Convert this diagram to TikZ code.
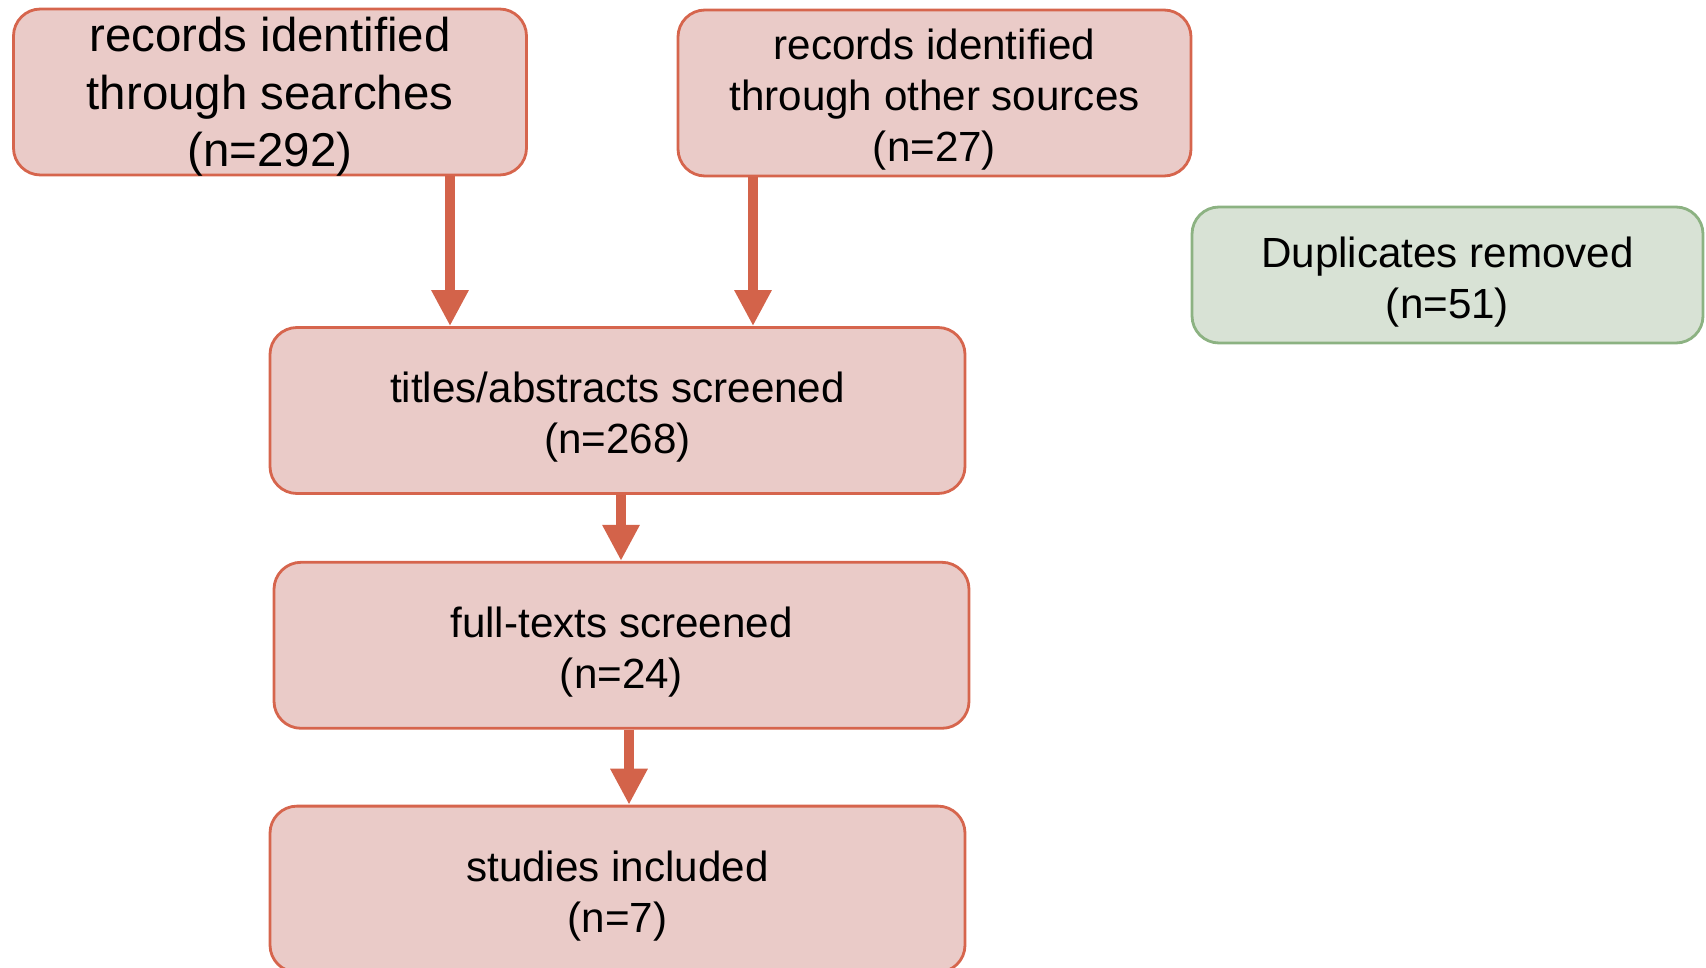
\documentclass[tikz,border=0pt]{standalone}
\usepackage{fontspec}
\setmainfont{Liberation Sans}
\usetikzlibrary{positioning,arrows.meta}
\definecolor{boxFill}{RGB}{234,203,200}
\definecolor{boxLine}{RGB}{214,101,77}
\definecolor{arrowColor}{RGB}{211,99,74}
\definecolor{dupFill}{RGB}{216,226,213}
\definecolor{dupLine}{RGB}{140,178,130}
\tikzstyle{stageBox} = [draw=boxLine, fill=boxFill, line width=.8pt, rounded corners=.27cm, align=center, inner sep=0pt, font=\fontsize{12}{14.5}\selectfont]
\tikzstyle{sourceBox} = [stageBox, minimum width=5.13cm, minimum height=1.66cm]
\tikzstyle{screenBox} = [stageBox, minimum width=6.95cm, minimum height=1.66cm]
\tikzstyle{dupBox} = [stageBox, draw=dupLine, fill=dupFill, minimum width=5.11cm, minimum height=1.36cm]
\tikzstyle{flowArrow} = [draw=arrowColor, line width=1mm, -{Triangle[length=3.6mm, width=3.5mm, fill=arrowColor]}]
\newcommand{\topGap}{\rule{0pt}{1.05em}}

\begin{document}
\begin{tikzpicture}
  \useasboundingbox (0,0) rectangle (17.06,-9.68);
  % sources
  \node [sourceBox, font=\fontsize{13.5}{16.3}\selectfont] (searches) at (2.70,-0.92) {records identified\\through searches\\\smash{(n=292)}};
  \node [sourceBox] (otherSources) at (9.345,-0.93) {\topGap records identified\\through other sources\\(n=27)};
  \node [dupBox] (duplicates) at (14.475,-2.75) {\topGap Duplicates removed\\(n=51)};
  % screening
  \node [screenBox] (abstracts) at (6.175,-4.105) {\topGap titles/abstracts screened\\(n=268)};
  \node [screenBox, below=.66cm of abstracts, xshift=.4mm] (fullTexts) {\topGap full-texts screened\\(n=24)};
  \node [screenBox, below=.75cm of fullTexts, xshift=-.4mm] (included) {\topGap studies included\\(n=7)};
  % arrows
  \draw [flowArrow] ([xshift=1.8cm]searches.south) -- ([xshift=1.8cm]searches.south |- abstracts.north);
  \draw [flowArrow] ([xshift=-1.815cm]otherSources.south) -- ([xshift=-1.815cm]otherSources.south |- abstracts.north);
  \draw [flowArrow] ([xshift=.35mm]abstracts.south) -- ([xshift=.35mm]abstracts.south |- fullTexts.north);
  \draw [flowArrow] ([xshift=.75mm]fullTexts.south) -- ([xshift=.75mm]fullTexts.south |- included.north);
\end{tikzpicture}
\end{document}
